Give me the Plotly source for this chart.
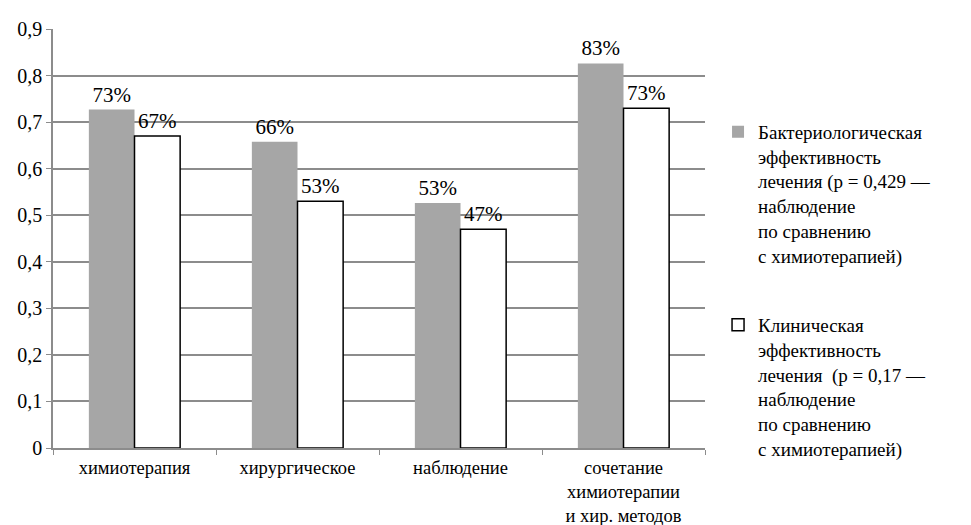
import plotly.graph_objects as go

categories = ["химиотерапия", "хирургическое", "наблюдение",
              "сочетание<br>химиотерапии<br>и хир. методов"]
bacterio = [0.727, 0.658, 0.526, 0.826]
clinical = [0.67, 0.53, 0.47, 0.73]
y_ticks = [0, 0.1, 0.2, 0.3, 0.4, 0.5, 0.6, 0.7, 0.8, 0.9]
y_tick_labels = ["0", "0,1", "0,2", "0,3", "0,4", "0,5", "0,6", "0,7", "0,8", "0,9"]

name_bacterio = ("Бактериологическая<br>эффективность<br>лечения (p = 0,429 —"
                 "<br>наблюдение<br>по сравнению<br>с химиотерапией)")
name_clinical = ("Клиническая<br>эффективность<br>лечения  (p = 0,17 —"
                 "<br>наблюдение<br>по сравнению<br>с химиотерапией)")

FONT = "Liberation Serif, Times New Roman, serif"

def txt(size):
    return dict(family=FONT, size=size, color="#000")

fig = go.Figure()
fig.add_trace(go.Bar(
    x=categories, y=bacterio, name=name_bacterio, legendgroup="a",
    marker=dict(color="#a6a6a6", line=dict(color="#a6a6a6", width=0)),
    texttemplate="%{y:.0%}", textposition="outside",
    textfont=txt(21), cliponaxis=False,
))
fig.add_trace(go.Bar(
    x=categories, y=clinical, name=name_clinical, legendgroup="b",
    marker=dict(color="#ffffff", line=dict(color="#000000", width=1.5)),
    texttemplate="%{y:.0%}", textposition="outside",
    textfont=txt(21), cliponaxis=False,
))

fig.update_layout(
    width=971, height=525,
    margin=dict(l=53, r=266, t=29, b=77),
    paper_bgcolor="white", plot_bgcolor="white",
    font=txt(19),
    separators=", ",
    barmode="group", bargap=0.44, bargroupgap=0,
    showlegend=True,
    legend=dict(x=1.02, xanchor="left", y=0.80, yanchor="top",
                traceorder="grouped", tracegroupgap=42, valign="top",
                font=txt(19), itemwidth=30),
)
fig.update_xaxes(showline=True, linecolor="#8c8c8c", linewidth=1.5,
                 ticks="outside", tickson="boundaries", ticklen=5,
                 tickcolor="#8c8c8c", showgrid=False, tickfont=txt(18.5),
                 ticklabelstandoff=2, automargin=False)
fig.update_yaxes(range=[0, 0.9], tickvals=y_ticks, ticktext=y_tick_labels,
                 showline=True, linecolor="#8c8c8c", linewidth=1.5,
                 ticks="outside", ticklen=5, tickcolor="#8c8c8c",
                 showgrid=True, gridcolor="#8c8c8c", gridwidth=1.5,
                 zeroline=False, tickfont=txt(20), automargin=False)

fig.write_html("out.html")
